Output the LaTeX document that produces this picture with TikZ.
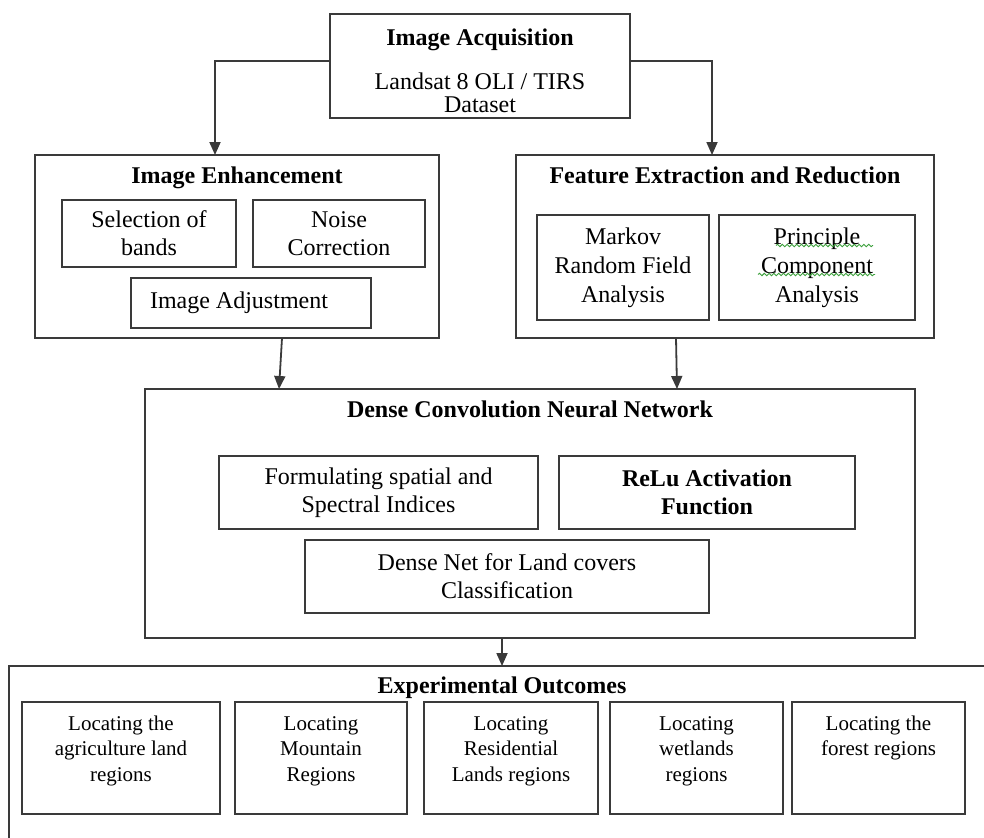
\documentclass[tikz,border=0pt]{standalone}
\usepackage{fontspec}
\setmainfont{Liberation Serif}
\usetikzlibrary{arrows.meta,decorations.pathmorphing}

\definecolor{linegray}{HTML}{3A3A3A}
\definecolor{spellgreen}{HTML}{3CA03C}

% top aligned text in the outcome boxes
\newcommand{\outcell}[2]{\parbox[c][50pt][t]{#1}{\centering\rule{0pt}{11pt}#2}}

\tikzset{
  box/.style={draw=linegray, line width=0.9pt, inner sep=2pt, outer sep=0pt, align=center,
    font=\fontsize{12}{14}\selectfont},
  group/.style={box},
  title/.style={anchor=base, inner sep=0pt, font=\fontsize{12}{14}\selectfont\bfseries},
  outcome/.style={box, inner sep=0pt, minimum height=56pt, font=\fontsize{10.5}{12.75}\selectfont},
  arr/.style={draw=linegray, line width=0.9pt, -{Triangle[length=6.5pt,width=5.5pt]}},
  spellwave/.style={draw=spellgreen, line width=0.45pt, decorate,
    decoration={snake, amplitude=0.6pt, segment length=2.4pt}},
}

\begin{document}
\begin{tikzpicture}[x=0.5pt, y=-0.5pt]
\useasboundingbox (0,0) rectangle (984,837);
\clip (0,0) rectangle (984,837);

% acquisition
\node[group, minimum width=150pt, minimum height=52pt, font=\fontsize{12}{11.5}\selectfont] (acq) at (480,66)
  {\rule{0pt}{13pt}\textbf{Image Acquisition}\\[10.5pt]Landsat 8 OLI / TIRS\\Dataset};

% enhancement
\node[group, minimum width=202pt, minimum height=91.5pt] (enh) at (237,246.5) {};
\node[title] (enhT) at ([yshift=-14pt]enh.north) {Image Enhancement};
\node[box, minimum width=87pt, minimum height=33.5pt] (sel) at (149,233.5) {Selection of\\bands};
\node[box, minimum width=86pt, minimum height=33.5pt] (noise) at (339,233.5) {Noise\\Correction};
\node[box, minimum width=120pt, minimum height=25pt] (adj) at (251,303) {Image Adjustment\hspace*{12pt}};

% features
\node[group, minimum width=209pt, minimum height=91.5pt] (feat) at (725,246.5) {};
\node[title] (featT) at ([yshift=-14pt]feat.north) {Feature Extraction and Reduction};
\node[box, minimum width=86pt, minimum height=52.5pt, font=\fontsize{12}{14.5}\selectfont] (mrf) at (623,267.5)
  {Markov\\Random Field\\Analysis};
\node[box, minimum width=98pt, minimum height=52.5pt, font=\fontsize{12}{14.5}\selectfont] (pca) at (817,267.5)
  {Principle\\Component\\Analysis};
\draw[spellwave] ([shift={(-41,-22)}]pca.center) -- ([shift={(56,-22)}]pca.center);
\draw[spellwave] ([shift={(-59,7)}]pca.center) -- ([shift={(58,7)}]pca.center);

% network
\node[group, minimum width=385pt, minimum height=124.5pt] (dcnn) at (530,513.5) {};
\node[title] (dcnnT) at ([yshift=-14pt]dcnn.north) {Dense Convolution Neural Network};
\node[box, minimum width=159.5pt, minimum height=36.5pt] (spat) at (378.5,492.5)
  {Formulating spatial and\\Spectral Indices};
\node[box, minimum width=148pt, minimum height=36.5pt] (relu) at (707,492.5)
  {\textbf{ReLu Activation}\\\textbf{Function}};
\node[box, minimum width=202pt, minimum height=36.5pt] (dnet) at (507,576.5)
  {Dense Net for Land covers\\Classification};

% outcomes
\node[group, minimum width=493pt, minimum height=89pt] (out) at (502,755) {};
\node[title] (outT) at ([yshift=-13.5pt]out.north) {Experimental Outcomes};
\node[outcome, minimum width=99pt] (o1) at (121,758)
  {\outcell{92pt}{Locating the\\agriculture land\\regions}};
\node[outcome, minimum width=86pt] (o2) at (321,758)
  {\outcell{80pt}{Locating\\Mountain\\Regions}};
\node[outcome, minimum width=87pt] (o3) at (511,758)
  {\outcell{80pt}{Locating\\Residential\\Lands regions}};
\node[outcome, minimum width=86.5pt] (o4) at (696.5,758)
  {\outcell{80pt}{Locating\\wetlands\\regions}};
\node[outcome, minimum width=86.5pt] (o5) at (878.5,758)
  {\outcell{80pt}{Locating the\\forest regions}};

% arrows
\draw[arr] ([yshift=2.5pt]acq.west) -| ([xshift=-11pt]enh.north);
\draw[arr] ([yshift=2.5pt]acq.east) -| ([xshift=-6.5pt]feat.north);
\draw[arr] ([xshift=22.5pt]enh.south) -- ([xshift=-125.5pt]dcnn.north);
\draw[arr] ([xshift=-24.5pt]feat.south) -- ([xshift=73.5pt]dcnn.north);
\draw[arr] (dcnn.south -| out.north) -- (out.north);
\end{tikzpicture}
\end{document}
